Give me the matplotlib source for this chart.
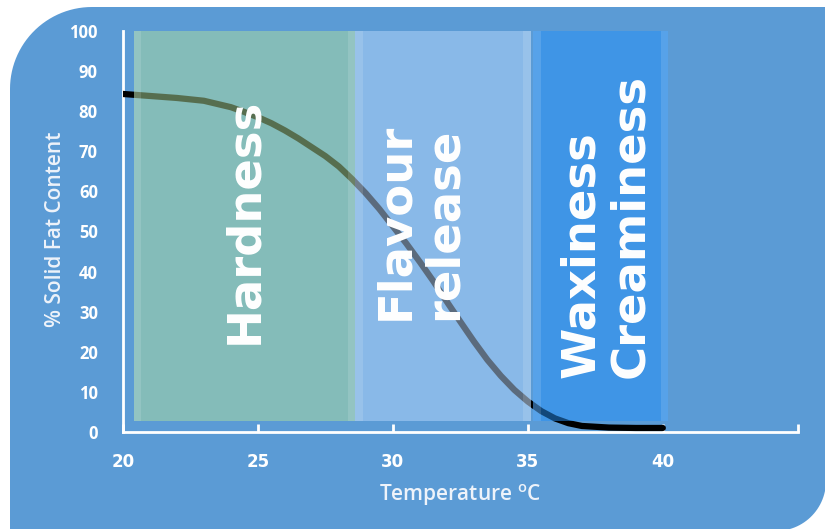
import numpy as np
import matplotlib
matplotlib.use('Agg')
from matplotlib import pyplot as plt
from matplotlib.path import Path
from matplotlib.patches import PathPatch, Rectangle

# solid fat content curve
temps = [20, 21, 22, 23, 24, 24.5, 25, 25.5, 26, 26.5, 27, 27.5, 28, 28.5, 29, 29.5,
         30, 30.5, 31, 31.5, 32, 32.5, 33, 33.5, 34, 34.5, 35, 35.5, 36, 36.5, 37, 38, 39, 40]
sfc = [84.3, 83.8, 83.3, 82.6, 81.0, 79.8, 78.5, 77.0, 75.2, 73.2, 71.0, 68.8, 66.2, 63.0, 59.5, 55.6,
       51.3, 47.0, 42.4, 37.6, 32.5, 27.5, 22.6, 18.0, 14.0, 10.5, 7.6, 5.2, 3.4, 2.2, 1.5, 1.1, 1.0, 1.0]

# melting zones
zone_names = ['Hardness', 'Flavour\nrelease', 'Waxiness\nCreaminess']
zone_start = [20.4, 28.6, 35.2]
zone_end = [28.6, 35.1, 40.2]
zone_bottom = 2.7
zone_top = 100
zone_colors = ['#ADDD9F', '#B7D7FB', '#2591F7']
label_x = [24.5, 31.0, 37.9]
label_y = [52.6, 52.4, 51.4]

x_ticks = [20, 25, 30, 35, 40, 45]
x_ticklabels = ['20', '25', '30', '35', '40', '']
y_ticks = [0, 10, 20, 30, 40, 50, 60, 70, 80, 90, 100]

BG = '#5B9BD5'
W, H = 825, 529


def rounded_shape(x0, y0, x1, y1, r_tl, r_br):
    # outline in pixel coords (y downwards), rounded top-left and bottom-right
    pts = []
    a = np.linspace(np.pi, 1.5 * np.pi, 30)
    pts += list(zip(x0 + r_tl + r_tl * np.cos(a), y0 + r_tl + r_tl * np.sin(a)))
    pts.append((x1, y0))
    a = np.linspace(0, 0.5 * np.pi, 30)
    pts += list(zip(x1 - r_br + r_br * np.cos(a), y1 - r_br + r_br * np.sin(a)))
    pts.append((x0, y1))
    pts.append(pts[0])
    pts = np.array(pts)
    pts[:, 0] = pts[:, 0] / W
    pts[:, 1] = 1 - pts[:, 1] / H
    return Path(pts)


fig = plt.figure(figsize=(8.25, 5.29), dpi=100)
fig.patch.set_facecolor('white')
fig.patches.append(PathPatch(rounded_shape(10, 7, 826, 531, 82, 50),
                             transform=fig.transFigure, facecolor=BG,
                             edgecolor='none', zorder=-5))

ax = fig.add_axes([0.149, 0.1834, 0.818, 0.758])
ax.set_facecolor('none')

ax.plot(temps, sfc, color='black', lw=4.5, solid_capstyle='round',
        solid_joinstyle='round', zorder=2)

for i in range(len(zone_names)):
    w = zone_end[i] - zone_start[i]
    ax.add_patch(Rectangle((zone_start[i], zone_bottom), w, zone_top - zone_bottom,
                           facecolor=zone_colors[i], alpha=0.5, edgecolor='none', zorder=3))
    # bevel strips
    for xs in (zone_start[i], zone_end[i] - 0.28):
        ax.add_patch(Rectangle((xs, zone_bottom), 0.28, zone_top - zone_bottom,
                               facecolor='white', alpha=0.13, edgecolor='none', zorder=3))
    ax.text(label_x[i], label_y[i], zone_names[i], rotation=90,
            ha='center', va='center', multialignment='left', color='white',
            fontsize=33.5, fontweight='bold', linespacing=1.12, zorder=4)

ax.set_xlim(20, 45)
ax.set_ylim(0, 100)
for s in ['top', 'right']:
    ax.spines[s].set_visible(False)
for s in ['left', 'bottom']:
    ax.spines[s].set_color('white')
    ax.spines[s].set_linewidth(2)
    ax.spines[s].set_zorder(1)

ax.set_xticks(x_ticks)
ax.set_xticklabels(x_ticklabels)
ax.set_yticks(y_ticks)
ax.tick_params(axis='x', direction='in', length=6, width=2, color='white',
               labelcolor='white', labelsize=12, pad=15)
ax.tick_params(axis='y', length=0, labelcolor='white', labelsize=12, pad=18)
for lab in ax.get_xticklabels():
    lab.set_fontweight('bold')
for lab in ax.get_yticklabels():
    lab.set_fontweight('bold')
    lab.set_family('Open Sans')

ax.set_ylabel('% Solid Fat Content', color='#EEF3FA', fontsize=15,
              family='Open Sans', fontweight='semibold')
ax.yaxis.set_label_coords(-0.084, 0.505)
ax.set_xlabel('Temperature $^{\\mathregular{o}}$C', color='#EEF3FA', fontsize=15,
              family='Open Sans', fontweight='semibold')
ax.xaxis.set_label_coords(0.5, -0.125)

fig.savefig('out.png', dpi=100, facecolor=fig.get_facecolor())
